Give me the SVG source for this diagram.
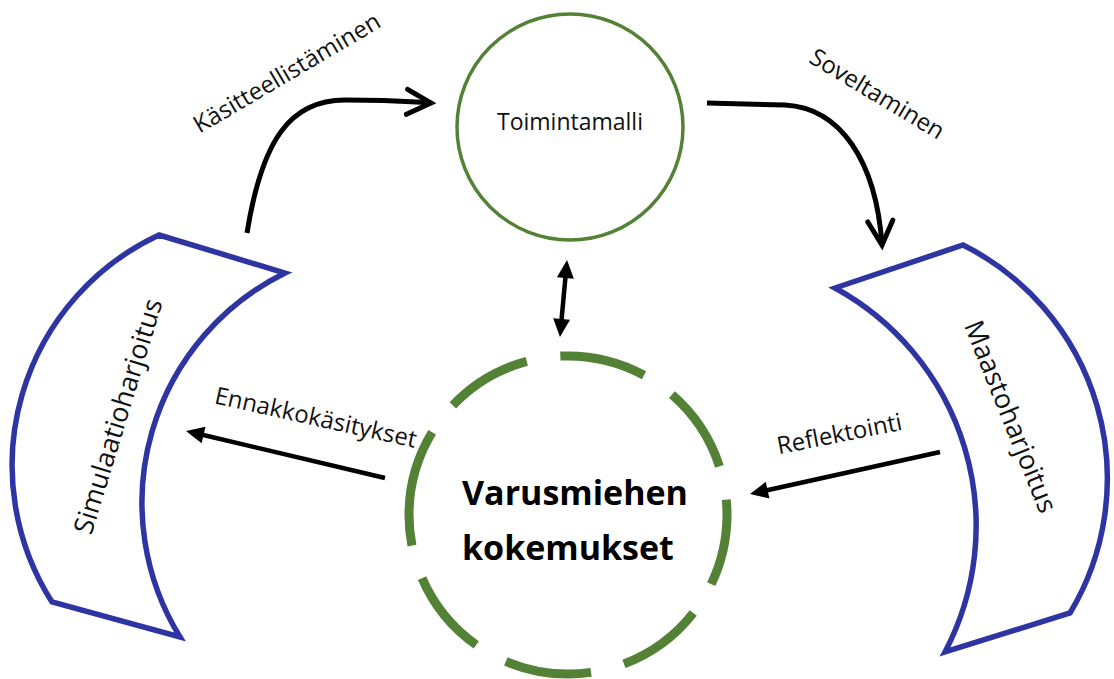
<svg xmlns="http://www.w3.org/2000/svg" width="1114" height="679" viewBox="0 0 1114 679">
  <style>
    .lbl { font-family: "Open Sans", "Noto Sans", "DejaVu Sans", sans-serif; font-size: 24px; fill: #111; text-anchor: middle; }
    .crescent { fill: #ffffff; stroke: #2f34a3; stroke-width: 5.5; stroke-linejoin: miter; }
    .crtext { font-family: "Open Sans", "Noto Sans", "DejaVu Sans", sans-serif; font-size: 27px; fill: #111; text-anchor: middle; }
    .conn { fill: none; stroke: #000; stroke-width: 4.5; }
    .curve { fill: none; stroke: #000; stroke-width: 5; }
    .big { font-family: "Open Sans", "Noto Sans", "DejaVu Sans", sans-serif; font-size: 34px; font-weight: bold; fill: #000; }
  </style>
  <defs>
    <marker id="tri" markerUnits="userSpaceOnUse" viewBox="-12 -10 22 20" refX="0" refY="0" markerWidth="22" markerHeight="20" orient="auto-start-reverse" overflow="visible">
      <path d="M-10,-8.5 L8,0 L-10,8.5 Z" fill="#000"/>
    </marker>
    <marker id="chev" markerUnits="userSpaceOnUse" viewBox="-30 -18 34 36" refX="0" refY="0" markerWidth="34" markerHeight="36" orient="auto" overflow="visible">
      <path d="M-24,-12.5 L0,0 L-24,12.5" fill="none" stroke="#000" stroke-width="5" stroke-linejoin="miter" stroke-linecap="round"/>
    </marker>
  </defs>
  <rect x="0" y="0" width="1114" height="679" fill="#ffffff"/>

  <g id="node-simulaatioharjoitus">
    <path class="crescent" d="M159,235 L285,273 A256,256 0 0 0 180,637 L52,602 A254,254 0 0 1 159,235 Z"/>
    <text class="crtext" transform="translate(127,419) rotate(-73)">Simulaatioharjoitus</text>
  </g>

  <g id="node-maastoharjoitus">
    <path class="crescent" d="M835,288 L963,245 A261,261 0 0 1 1070,613 L945,652 A271,271 0 0 0 835,288 Z"/>
    <text class="crtext" transform="translate(1002,420) rotate(68)">Maastoharjoitus</text>
  </g>

  <g id="node-toimintamalli">
    <circle cx="570" cy="127" r="113" fill="#ffffff" stroke="#538135" stroke-width="3.5"/>
    <text class="lbl" x="570" y="130" style="font-size:23px">Toimintamalli</text>
  </g>

  <g id="node-varusmiehen-kokemukset">
    <path d="M409,515 A159,159 0 1 1 727,515 A159,159 0 1 1 409,515" fill="none" stroke="#538135" stroke-width="9" stroke-dasharray="87 34"/>
    <text class="big" x="462" y="505">Varusmiehen</text>
    <text class="big" x="462" y="560">kokemukset</text>
  </g>

  <g id="connectors">
    <path class="curve" d="M247,233 C262,140 290,100 345,100 S410,102 431,103" marker-end="url(#chev)"/>
    <path class="curve" d="M707,103 L785,105 C840,108 876,160 882,245" marker-end="url(#chev)"/>
    <line class="conn" x1="566.3" y1="268" x2="560.7" y2="329" marker-start="url(#tri)" marker-end="url(#tri)"/>
    <line class="conn" x1="385" y1="478" x2="193.8" y2="432.8" marker-end="url(#tri)"/>
    <line class="conn" x1="940" y1="452" x2="757.8" y2="492.3" marker-end="url(#tri)"/>
  </g>

  <g id="labels">
    <text class="lbl" transform="translate(291,80) rotate(-30.5)">Käsitteellistäminen</text>
    <text class="lbl" transform="translate(873,101) rotate(31)">Soveltaminen</text>
    <text class="lbl" transform="translate(314,425.5) rotate(12.5)">Ennakkokäsitykset</text>
    <text class="lbl" transform="translate(841,442) rotate(-11.2)">Reflektointi</text>
  </g>
</svg>
